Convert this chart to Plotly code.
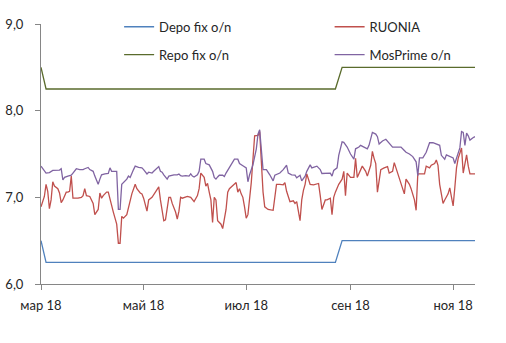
import pandas as pd
import plotly.graph_objects as go

START = pd.Timestamp("2018-03-01")

# Day offsets (days since 1 March 2018) and rates, % p.a.
depo_day = [0, 3, 175, 179, 258]
depo_val = [6.50, 6.25, 6.25, 6.50, 6.50]

repo_day = [0, 3, 175, 179, 258]
repo_val = [8.50, 8.25, 8.25, 8.50, 8.50]

ruonia_day = [0, 2, 3, 4, 5, 6, 7, 8, 10, 11, 12, 13, 15, 16, 17, 18, 19, 21, 22, 24,
              25, 26, 27, 29, 31, 32, 34, 35, 36, 37, 39, 40, 41, 43, 44, 45, 46, 47, 48, 49,
              51, 52, 54, 56, 57, 59, 60, 61, 63, 64, 66, 68, 70, 71, 72, 73, 74, 76, 77, 78,
              80, 81, 82, 83, 84, 86, 87, 89, 91, 93, 94, 95, 97, 98, 99, 100, 101, 102, 103, 104,
              105, 107, 108, 110, 111, 112, 113, 114, 116, 117, 118, 119, 120, 121, 122, 123, 124, 125, 127, 129,
              130, 132, 133, 135, 138, 139, 140, 142, 144, 145, 146, 148, 150, 151, 152, 154, 155, 156, 157, 158,
              160, 162, 165, 166, 167, 169, 170, 172, 173, 174, 175, 177, 179, 180, 181, 182, 184, 186, 187, 188,
              189, 191, 193, 194, 196, 197, 198, 199, 200, 202, 204, 206, 207, 209, 210, 212, 214, 216, 217, 219,
              220, 222, 223, 224, 226, 228, 229, 231, 232, 234, 235, 236, 237, 239, 240, 242, 243, 245, 246, 247,
              248, 250, 251, 253, 254, 255, 258]
ruonia_val = [6.89, 7.01, 7.15, 7.07, 6.87, 6.97, 7.18, 7.13, 7.10, 7.05, 6.94, 6.97, 7.06, 7.06, 7.07, 7.245, 6.99, 6.99, 6.99, 7.00,
              7.02, 7.10, 7.02, 7.01, 6.93, 6.80, 6.86, 7.05, 6.99, 7.02, 7.06, 7.06, 6.97, 6.83, 6.76, 6.69, 6.47, 6.47, 6.78, 6.76,
              6.80, 6.89, 7.04, 7.15, 7.10, 7.05, 7.04, 6.99, 6.84, 6.97, 7.00, 7.06, 7.12, 6.97, 6.82, 6.73, 6.74, 7.00, 7.00, 6.93,
              6.83, 6.75, 6.84, 7.00, 6.99, 7.00, 7.01, 7.00, 6.95, 7.02, 7.10, 7.28, 7.23, 7.13, 7.16, 7.06, 6.97, 6.71, 7.00, 6.97,
              6.73, 6.69, 6.64, 6.86, 7.06, 7.10, 7.12, 7.13, 7.17, 7.06, 7.10, 7.04, 7.00, 6.89, 6.76, 6.80, 7.00, 7.17, 7.71, 7.715,
              7.76, 7.06, 6.89, 6.86, 6.85, 7.04, 7.15, 7.15, 7.145, 7.17, 7.07, 6.95, 6.96, 6.93, 6.95, 6.73, 6.97, 7.08, 7.15, 7.27,
              7.15, 7.145, 7.16, 7.02, 6.86, 6.97, 6.97, 6.99, 6.80, 7.00, 7.06, 7.15, 7.21, 7.30, 7.02, 7.28, 7.23, 7.23, 7.45, 7.23,
              7.28, 7.36, 7.30, 7.245, 7.37, 7.53, 7.45, 7.39, 7.06, 7.32, 7.34, 7.355, 7.28, 7.30, 7.40, 7.28, 7.15, 7.04, 7.21, 7.15,
              7.10, 6.97, 6.85, 7.27, 7.27, 7.27, 7.36, 7.34, 7.37, 7.39, 7.43, 7.37, 7.15, 6.93, 6.97, 7.04, 7.11, 6.90, 7.11, 7.34,
              7.45, 7.57, 7.28, 7.49, 7.36, 7.27, 7.27]

mosprime_day = [0, 3, 5, 7, 11, 12, 13, 14, 16, 18, 19, 20, 21, 23, 25, 26, 28, 29, 31, 32,
                34, 35, 36, 38, 40, 41, 42, 44, 45, 46, 47, 48, 49, 51, 52, 53, 55, 56, 58, 60,
                61, 63, 64, 66, 67, 69, 70, 71, 72, 73, 74, 75, 76, 77, 79, 81, 82, 83, 84, 86,
                88, 89, 90, 91, 93, 94, 95, 97, 98, 100, 102, 103, 104, 105, 106, 108, 109, 110, 112, 113,
                115, 117, 118, 120, 122, 123, 124, 126, 128, 129, 130, 132, 134, 136, 138, 139, 142, 144, 146, 147,
                149, 151, 152, 154, 155, 157, 158, 160, 161, 164, 166, 167, 170, 172, 173, 174, 176, 177, 179, 180,
                182, 184, 186, 187, 189, 190, 192, 194, 195, 197, 199, 200, 201, 203, 205, 207, 209, 211, 214, 216,
                217, 219, 221, 223, 224, 225, 227, 229, 231, 233, 235, 237, 238, 240, 241, 243, 245, 246, 247, 249,
                250, 251, 252, 253, 254, 255, 257, 258]
mosprime_val = [7.36, 7.28, 7.285, 7.31, 7.315, 7.33, 7.20, 7.23, 7.245, 7.255, 7.28, 7.30, 7.33, 7.32, 7.32, 7.33, 7.345, 7.32, 7.30, 7.245,
                7.15, 7.21, 7.26, 7.27, 7.275, 7.34, 7.30, 7.30, 7.30, 6.86, 6.86, 7.15, 7.17, 7.21, 7.245, 7.23, 7.32, 7.36, 7.345, 7.34,
                7.32, 7.27, 7.29, 7.28, 7.30, 7.34, 7.355, 7.30, 7.29, 7.26, 7.23, 7.21, 7.245, 7.25, 7.26, 7.26, 7.27, 7.25, 7.245, 7.25,
                7.245, 7.27, 7.245, 7.235, 7.26, 7.30, 7.44, 7.44, 7.39, 7.375, 7.30, 7.23, 7.21, 7.235, 7.255, 7.255, 7.24, 7.28, 7.34, 7.375,
                7.44, 7.44, 7.39, 7.365, 7.34, 7.18, 7.26, 7.375, 7.56, 7.73, 7.78, 7.32, 7.32, 7.26, 7.19, 7.255, 7.28, 7.32, 7.37, 7.28,
                7.26, 7.255, 7.225, 7.255, 7.19, 7.245, 7.30, 7.375, 7.34, 7.36, 7.32, 7.275, 7.28, 7.28, 7.245, 7.31, 7.34, 7.485, 7.64, 7.635,
                7.58, 7.50, 7.44, 7.56, 7.58, 7.60, 7.58, 7.56, 7.60, 7.75, 7.73, 7.70, 7.615, 7.65, 7.67, 7.63, 7.58, 7.58, 7.58, 7.54,
                7.52, 7.50, 7.47, 7.41, 7.25, 7.455, 7.455, 7.52, 7.63, 7.63, 7.615, 7.60, 7.485, 7.44, 7.49, 7.47, 7.455, 7.39, 7.45, 7.57,
                7.76, 7.75, 7.60, 7.74, 7.71, 7.66, 7.69, 7.70]

tick_dates = ["2018-03-01", "2018-05-01", "2018-07-01", "2018-09-01", "2018-11-01"]
tick_labels = ["мар 18", "май 18", "июл 18", "сен 18", "ноя 18"]


def to_dates(days):
    return START + pd.to_timedelta(days, unit="D")


series = [
    ("Depo fix o/n", depo_day, depo_val, "#4F81BD", "legend"),
    ("Repo fix o/n", repo_day, repo_val, "#5A6B2C", "legend"),
    ("RUONIA", ruonia_day, ruonia_val, "#C0504D", "legend2"),
    ("MosPrime o/n", mosprime_day, mosprime_val, "#8064A2", "legend2"),
]

fig = go.Figure()
for name, days, vals, color, leg in series:
    fig.add_trace(go.Scatter(
        x=to_dates(days), y=vals, mode="lines", name=name,
        line=dict(color=color, width=1.3),
        legend=leg, legendgroup=name,
    ))

FONT = "Lato, 'Open Sans', sans-serif"
legend_style = dict(
    bgcolor="rgba(0,0,0,0)", borderwidth=0,
    font=dict(family=FONT, size=13, color="#262626"),
    tracegroupgap=8, itemwidth=30,
    xanchor="left", yanchor="top",
)

fig.update_layout(
    width=506, height=343,
    margin=dict(l=41, r=31, t=14, b=59),
    paper_bgcolor="white", plot_bgcolor="white",
    separators=", ",
    font=dict(family=FONT, size=13, color="#262626"),
    showlegend=True,
    legend=dict(x=0.18, y=1.047, **legend_style),
    legend2=dict(x=0.665, y=1.047, **legend_style),
    xaxis=dict(
        type="date", automargin=False,
        range=[START, to_dates([258])[0]],
        tickvals=tick_dates, ticktext=tick_labels,
        ticks="outside", ticklen=5, tickcolor="#868686",
        showline=True, linecolor="#868686", linewidth=1,
        showgrid=False, zeroline=False,
        tickfont=dict(family=FONT, size=13, color="#262626"),
        ticklabelstandoff=4,
    ),
    yaxis=dict(
        automargin=False,
        range=[6, 9], tickvals=[6, 7, 8, 9], tickformat=".1f",
        ticks="outside", ticklen=5, tickcolor="#868686",
        showline=True, linecolor="#868686", linewidth=1,
        showgrid=False, zeroline=False,
        tickfont=dict(family=FONT, size=13, color="#262626"),
        ticklabelstandoff=9,
    ),
)

fig.write_html("out.html")
